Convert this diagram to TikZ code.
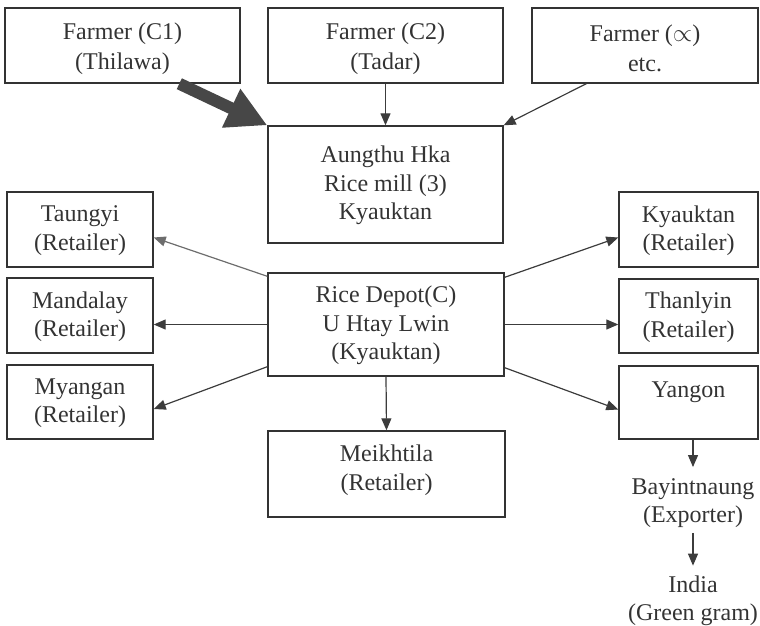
\documentclass[tikz,border=0pt]{standalone}
\usepackage{fontspec}
\setmainfont{Liberation Serif}
\usetikzlibrary{arrows.meta,calc}
\definecolor{ink}{HTML}{333333}
\definecolor{wire}{HTML}{3C3C3C}
\begin{document}
\begin{tikzpicture}[x=1pt,y=-1pt,
  every node/.style={font=\fontsize{24}{28.5}\selectfont, text=ink, align=center, inner sep=0pt},
  wide/.style={font=\fontsize{24}{30}\selectfont},
  box/.style={draw=ink, line width=1.4pt, rectangle},
  flow/.style={draw=wire, line width=1.2pt, -{Triangle[length=12pt,width=10pt]}},
  softflow/.style={flow, draw=wire!75},
  bigflow/.style={draw=ink!90, line width=12pt, -{Triangle[length=40pt,width=40pt]}}]
\useasboundingbox (0,0) rectangle (760,625);

% farmers
\node[box, minimum width=235pt, minimum height=75pt] (c1) at (122.5,45.5) {};
\node[wide, yshift=-3pt] (c1t) at (c1) {Farmer (C1)\\(Thilawa)};
\node[box, minimum width=235pt, minimum height=75pt] (c2) at (385.5,45.5) {};
\node[wide, yshift=-3pt] (c2t) at (c2) {Farmer (C2)\\(Tadar)};
\node[box, minimum width=226pt, minimum height=75pt] (cx) at (645,45.5) {};
\node[wide, yshift=-3pt] (cxt) at (cx) {Farmer ($\propto$)\\etc.};

% mill, depot and the depot's own retailer
\node[box, minimum width=235pt, minimum height=117pt] (mill) at (385.5,184.5) {};
\node[yshift=-1pt] (millt) at (mill) {Aungthu Hka\\Rice mill (3)\\Kyauktan};
\node[box, minimum width=236pt, minimum height=103pt] (depot) at (386,324.5) {};
\node[yshift=-1pt] (depott) at (depot) {Rice Depot(C)\\U Htay Lwin\\(Kyauktan)};
\node[box, minimum width=237pt, minimum height=86pt] (meik) at (386.5,474) {};
\node[yshift=4pt] (meikt) at (meik) {Meikhtila\\(Retailer)};

% left retailers
\node[box, minimum width=146pt, minimum height=75pt] (taungyi) at (80,229.5) {};
\node[yshift=-1pt] (taungyit) at (taungyi) {Taungyi\\(Retailer)};
\node[box, minimum width=146pt, minimum height=75pt] (mandalay) at (80,315.5) {};
\node[yshift=-1pt] (mandalayt) at (mandalay) {Mandalay\\(Retailer)};
\node[box, minimum width=146pt, minimum height=74pt] (myangan) at (80,402) {};
\node[yshift=-1pt] (myangant) at (myangan) {Myangan\\(Retailer)};

% right buyers
\node[box, minimum width=139pt, minimum height=75pt] (kret) at (688.5,229.5) {};
\node[yshift=-1pt] (krett) at (kret) {Kyauktan\\(Retailer)};
\node[box, minimum width=139pt, minimum height=74pt] (thanlyin) at (688.5,316) {};
\node[yshift=-1pt] (thanlyint) at (thanlyin) {Thanlyin\\(Retailer)};
\node[box, minimum width=139pt, minimum height=73pt] (yangon) at (688.5,402.5) {};
\node (yangont) at (688.5,392) {Yangon};

% export chain
\node (bay) at (693,503) {Bayintnaung\\(Exporter)};
\node (india) at (693,601) {India\\(Green gram)};

% supply into the mill
\draw[bigflow] ($(c1.south west)+(175,0)$) -- (mill.north west);
\draw[flow] (c2.south) -- (mill.north);
\draw[flow] ($(cx.south west)+(55,0)$) -- (mill.north east);

% distribution from the depot
\draw[softflow] ($(depot.north west)+(0,4)$) -- ($(taungyi.east)+(0,8)$);
\draw[flow] (depot.west) -- (mandalay.east |- depot.west);
\draw[flow] ($(depot.south west)+(0,-10)$) -- ($(myangan.east)+(0,7)$);
\draw[flow] ($(depot.north east)+(0,5)$) -- ($(kret.west)+(0,8)$);
\draw[flow] (depot.east) -- (thanlyin.west |- depot.east);
\draw[flow] ($(depot.south east)+(0,-9)$) -- ($(yangon.west)+(0,7)$);
\draw[flow] (depot.south) -- (meik.north);

% export
\draw[flow] ($(yangon.south)+(4.5,0)$) -- ($(bay.north)+(0,-11)$);
\draw[flow] ($(bay.south)+(0,5)$) -- ($(india.north)+(0,-10)$);
\end{tikzpicture}
\end{document}
